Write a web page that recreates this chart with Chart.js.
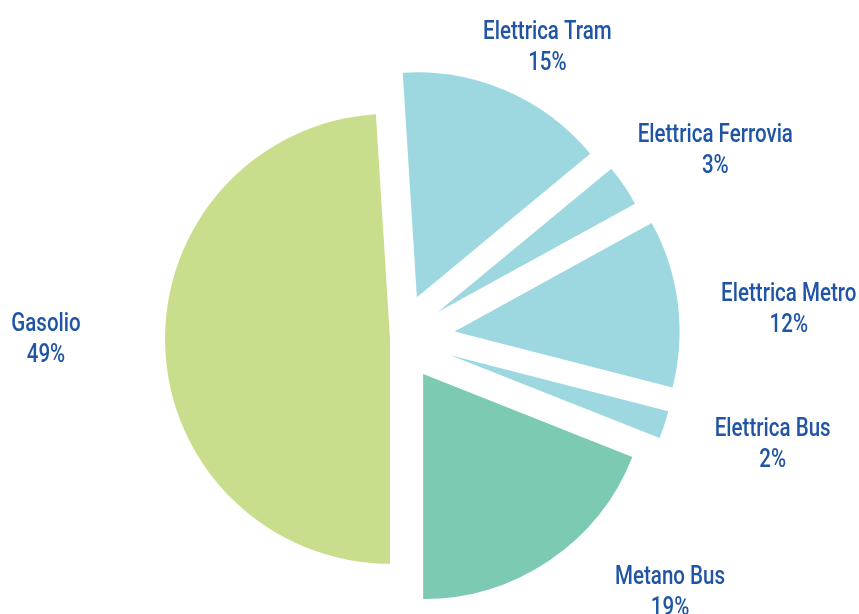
<!DOCTYPE html>
<html>
<head>
<meta charset="utf-8">
<script src="https://cdn.jsdelivr.net/npm/chart.js@4"></script>
<style>
  html, body { margin: 0; padding: 0; background: #fff; }
  #wrap { width: 859px; height: 614px; }
</style>
</head>
<body>
<div id="wrap"><canvas id="pie"></canvas></div>
<script>
// consumo energia per alimentazione (%)
const categories = ['Elettrica Tram', 'Elettrica Ferrovia', 'Elettrica Metro', 'Elettrica Bus', 'Metano Bus', 'Gasolio'];
const shares     = [15, 3, 12, 2, 19, 49];

const sliceColors = ['#9dd8e1', '#9dd8e1', '#9dd8e1', '#9dd8e1', '#7ccab3', '#c9de8c'];
const explode     = [45, 47, 56, 54, 43, 9];          // spostamento radiale fette (px)
const labelShift  = [3.5, 3.2, 2.7, -2.4, -12.9, 1.9]; // gradi rispetto al centro fetta
const labelDist   = [328, 369, 391, 388, 370, 353];    // distanza etichetta dal centro
const txtColor    = '#1f55a4';
const txtFont     = '500 26px Roboto, "DejaVu Sans", sans-serif';
const condense    = 0.79;                              // font stretto tipo DIN

function pieCenter(chart) {
  const a = chart.chartArea;
  return { x: (a.left + a.right) / 2, y: (a.top + a.bottom) / 2 };
}

// esplode le fette senza cambiare il raggio
const explodePlugin = {
  id: 'explode',
  afterDatasetsUpdate(chart) {
    const c = pieCenter(chart);
    chart.getDatasetMeta(0).data.forEach((el, i) => {
      const mid = (el.startAngle + el.endAngle) / 2;
      el.x = c.x + Math.cos(mid) * explode[i];
      el.y = c.y + Math.sin(mid) * explode[i];
    });
  }
};

const labelPlugin = {
  id: 'sliceLabels',
  afterDatasetsDraw(chart) {
    const ctx = chart.ctx;
    const c = pieCenter(chart);
    chart.getDatasetMeta(0).data.forEach((el, i) => {
      const a = (el.startAngle + el.endAngle) / 2 + labelShift[i] * Math.PI / 180;
      const x = c.x + Math.cos(a) * labelDist[i];
      const y = c.y + Math.sin(a) * labelDist[i];
      ctx.save();
      ctx.translate(x, y);
      ctx.scale(condense, 1);
      ctx.font = txtFont;
      ctx.fillStyle = txtColor;
      ctx.textAlign = 'center';
      ctx.textBaseline = 'alphabetic';
      ctx.fillText(categories[i], 0, -15.5 + 9);
      ctx.fillText(shares[i] + '%', 0, 15.5 + 9);
      ctx.restore();
    });
  }
};

new Chart(document.getElementById('pie'), {
  type: 'pie',
  data: {
    labels: categories,
    datasets: [{
      data: shares,
      backgroundColor: sliceColors,
      borderWidth: 0,
      hoverOffset: 0,
      clip: false
    }]
  },
  options: {
    responsive: true,
    maintainAspectRatio: false,
    animation: false,
    rotation: -3.6,
    radius: 225,
    layout: { padding: { left: 0, right: 61, top: 63, bottom: 0 } },
    plugins: {
      legend: { display: false },
      tooltip: { enabled: false }
    }
  },
  plugins: [explodePlugin, labelPlugin]
});
</script>
</body>
</html>
